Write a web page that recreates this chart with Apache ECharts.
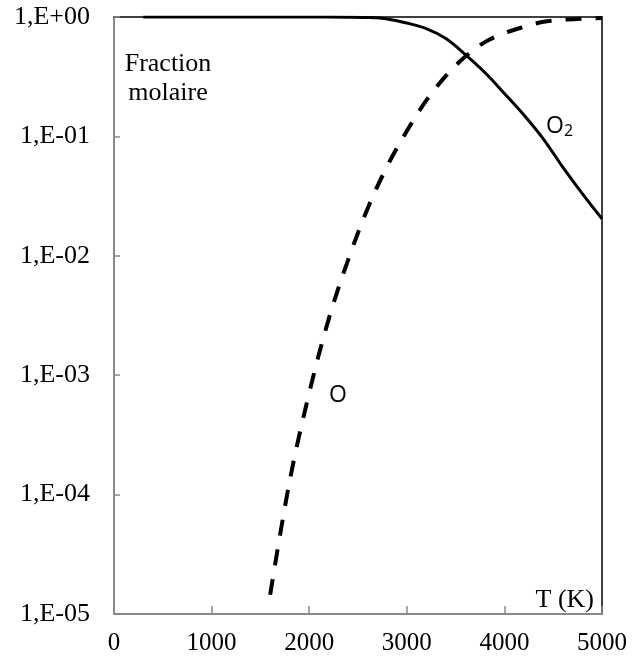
<!DOCTYPE html>
<html>
<head>
<meta charset="utf-8">
<script src="https://cdn.jsdelivr.net/npm/echarts@6/dist/echarts.min.js"></script>
<style>html,body{margin:0;padding:0;background:#fff}#c{width:640px;height:661px}</style>
</head>
<body>
<div id="c"></div>
<script>
// Data
const o2Temps = [300, 1000, 1500, 2000, 2400, 2600, 2800, 3000, 3200, 3400, 3600, 3800, 4000, 4200, 4400, 4600, 4800, 5000];
const o2Fractions = [1, 1, 1, 0.999, 0.997, 0.99, 0.962, 0.89, 0.80, 0.66, 0.485, 0.343, 0.229, 0.151, 0.095, 0.055, 0.033, 0.0204];
const oTemps = [1600, 1800, 2000, 2200, 2400, 2600, 2800, 3000, 3200, 3400, 3600, 3800, 4000, 4200, 4400, 4600, 4800, 5000];
const oFractions = [1.45e-5, 1.3e-4, 7.1e-4, 2.95e-3, 9.3e-3, 0.025, 0.0565, 0.111, 0.20, 0.321, 0.467, 0.616, 0.733, 0.826, 0.912, 0.948, 0.966, 0.98];
const xTickLabels = ['0', '1000', '2000', '3000', '4000', '5000'];
const yTickLabels = ['1,E-05', '1,E-04', '1,E-03', '1,E-02', '1,E-01', '1,E+00'];

const chart = echarts.init(document.getElementById('c'));
const serif = 'Liberation Serif';
const sans = 'Open Sans';
const gray = '#888888';

chart.setOption({
  animation: false,
  grid: { left: 114, right: 38, top: 17, bottom: 47 },
  xAxis: [{
    type: 'value', min: 0, max: 5000, interval: 1000,
    axisLine: { show: true, onZero: false, lineStyle: { color: gray, width: 2 } },
    axisTick: { show: true, inside: true, length: 8, lineStyle: { color: gray, width: 1.5 } },
    splitLine: { show: false },
    axisLabel: {
      margin: 17, color: '#000', fontFamily: serif, fontSize: 25,
      formatter: v => xTickLabels[Math.round(v / 1000)]
    }
  }, {
    type: 'value', min: 0, max: 5000, position: 'top',
    axisLine: { show: true, onZero: false, lineStyle: { color: '#000', width: 1.5 } },
    axisTick: { show: false }, axisLabel: { show: false }, splitLine: { show: false }
  }],
  yAxis: [{
    type: 'log', logBase: 10, min: 1e-5, max: 1,
    axisLine: { show: true, onZero: false, lineStyle: { color: gray, width: 2 } },
    axisTick: { show: true, inside: true, length: 6, lineStyle: { color: gray, width: 1.5 } },
    minorTick: { show: false },
    splitLine: { show: false },
    axisLabel: {
      margin: 24, color: '#000', fontFamily: serif, fontSize: 26,
      formatter: v => yTickLabels[Math.round(Math.log10(v)) + 5]
    }
  }, {
    type: 'log', logBase: 10, min: 1e-5, max: 1, position: 'right',
    axisLine: { show: true, onZero: false, lineStyle: { color: '#000', width: 1.5 } },
    axisTick: { show: false }, axisLabel: { show: false }, splitLine: { show: false }
  }],
  series: [{
    name: 'O2', type: 'line', smooth: 0.35, showSymbol: false,
    data: o2Temps.map((t, i) => [t, o2Fractions[i]]),
    lineStyle: { color: '#000', width: 3 }
  }, {
    name: 'O', type: 'line', smooth: 0.35, showSymbol: false,
    data: oTemps.map((t, i) => [t, oFractions[i]]),
    lineStyle: { color: '#000', width: 4, type: [16, 14] }
  }],
  graphic: [{
    type: 'text', x: 168, y: 50,
    style: { text: 'Fraction\nmolaire', align: 'center', fill: '#000', font: '26px "Liberation Serif"', lineHeight: 29 }
  }, {
    type: 'text', x: 594, y: 587,
    style: { text: 'T (K)', align: 'right', fill: '#000', font: '26px "Liberation Serif"' }
  }, {
    type: 'text', x: 546, y: 113,
    style: {
      text: 'O{s|2}', fill: '#000', font: '23px "Open Sans"',
      rich: { s: { fontSize: 16, fontFamily: sans, padding: [10, 0, 0, 0] } }
    }
  }, {
    type: 'text', x: 329, y: 384,
    style: { text: 'O', fill: '#000', font: '23px "Open Sans"' }
  }]
});
</script>
</body>
</html>
